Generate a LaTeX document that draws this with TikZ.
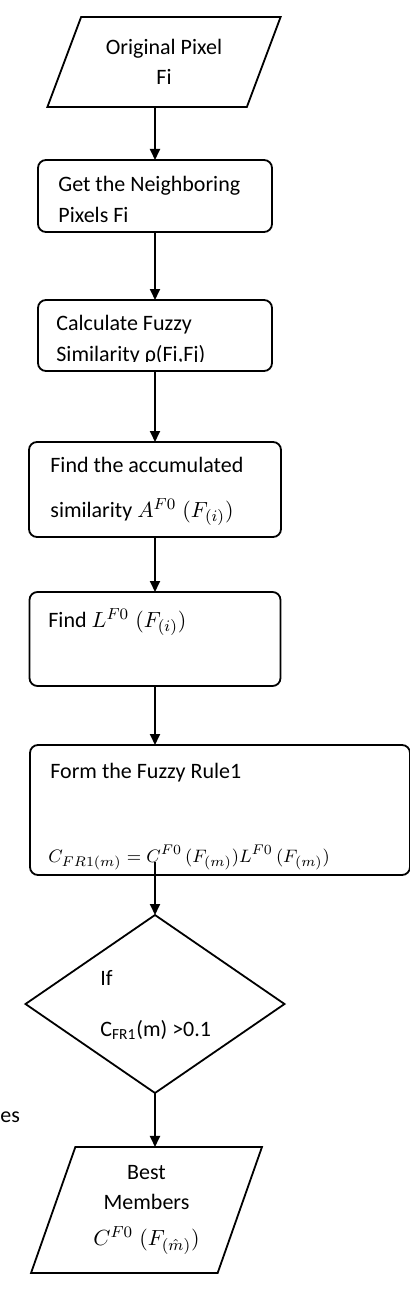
\documentclass[tikz,border=0pt]{standalone}
\usepackage[no-math]{fontspec}
\setmainfont{Carlito}
\usetikzlibrary{arrows.meta,shapes.geometric}

\begin{document}
\begin{tikzpicture}[x=0.5pt,y=-0.5pt,
  every node/.style={font=\fontsize{11}{15}\selectfont},
  box/.style={draw,rounded corners=4pt,line width=0.9pt,inner sep=0pt,outer sep=0pt},
  io/.style={draw,trapezium,trapezium stretches=true,line width=0.9pt,inner sep=0pt,outer sep=0pt,align=center},
  decide/.style={draw,diamond,line width=0.9pt,inner sep=0pt,outer sep=0pt},
  lbl/.style={anchor=base west,inner sep=0pt},
  arrow/.style={-{Triangle[length=5.5pt,width=5pt]},line width=0.9pt}]
\useasboundingbox (0,0) rectangle (409,1289);
% shapes
\node[io,trapezium left angle=62.4,trapezium right angle=117.6,minimum width=117pt,minimum height=45pt] (orig) at (164,62) {Original Pixel\\Fi};
\node[box,minimum width=117pt,minimum height=36pt] (neigh) at (155,196) {};
\node[box,minimum width=117pt,minimum height=35.5pt] (simil) at (155,335.5) {};
\node[box,minimum width=126pt,minimum height=47.5pt] (accum) at (155,489.5) {};
\node[box,minimum width=125.5pt,minimum height=47pt] (lfind) at (155,639) {};
\node[box,minimum width=190pt,minimum height=65pt] (rule) at (220,810) {};
\node[decide,minimum width=129.5pt,minimum height=89pt] (test) at (155,1004) {};
\node[io,trapezium left angle=69.5,trapezium right angle=110.5,minimum width=116.5pt,minimum height=63pt] (best) at (146.5,1210) {Best\\Members\\[3pt]$C^{F0}\;(F_{(\hat{m})})$};
% texts
\node[lbl] (neighA) at (58,192) {Get the Neighboring};
\node[lbl] (neighB) at (58,222) {Pixels Fi};
\node[lbl] (similA) at (56,330) {Calculate Fuzzy};
\begin{scope}
\clip (38,300) rectangle (272,361.5);
\node[lbl] (similB) at (56,361) {Similarity ρ(Fi,Fj)};
\end{scope}
\node[lbl] (accumA) at (50,472) {Find the accumulated};
\node[lbl] (accumB) at (50,517) {similarity $A^{F0}\;(F_{(i)})$};
\node[lbl] (lfindA) at (48,627) {Find $L^{F0}\;(F_{(i)})$};
\node[lbl] (ruleA) at (50,778) {Form the Fuzzy Rule1};
\node[lbl,font=\fontsize{9.5}{12}\selectfont] (ruleB) at (48,862) {$C_{FR1(m)}=C^{F0}\,(F_{(m)})L^{F0}\,(F_{(m)})$};
\node[lbl] (testA) at (100,985) {If};
\node[lbl] (testB) at (100,1036) {C\textsubscript{FR1}(m) >0.1};
\node[lbl] (yes) at (0,1122) {es};
% connectors
\draw[arrow] (orig.south -| neigh.north) -- (neigh.north);
\draw[arrow] (neigh.south) -- (simil.north);
\draw[arrow] (simil.south) -- (accum.north);
\draw[arrow] (accum.south) -- (lfind.north);
\draw[arrow] (lfind.south) -- (lfind.south |- rule.north);
\draw[arrow] ([yshift=6.5pt]rule.south -| test.north) -- (test.north);
\draw[arrow] (test.south) -- (test.south |- best.north);
\end{tikzpicture}
\end{document}
